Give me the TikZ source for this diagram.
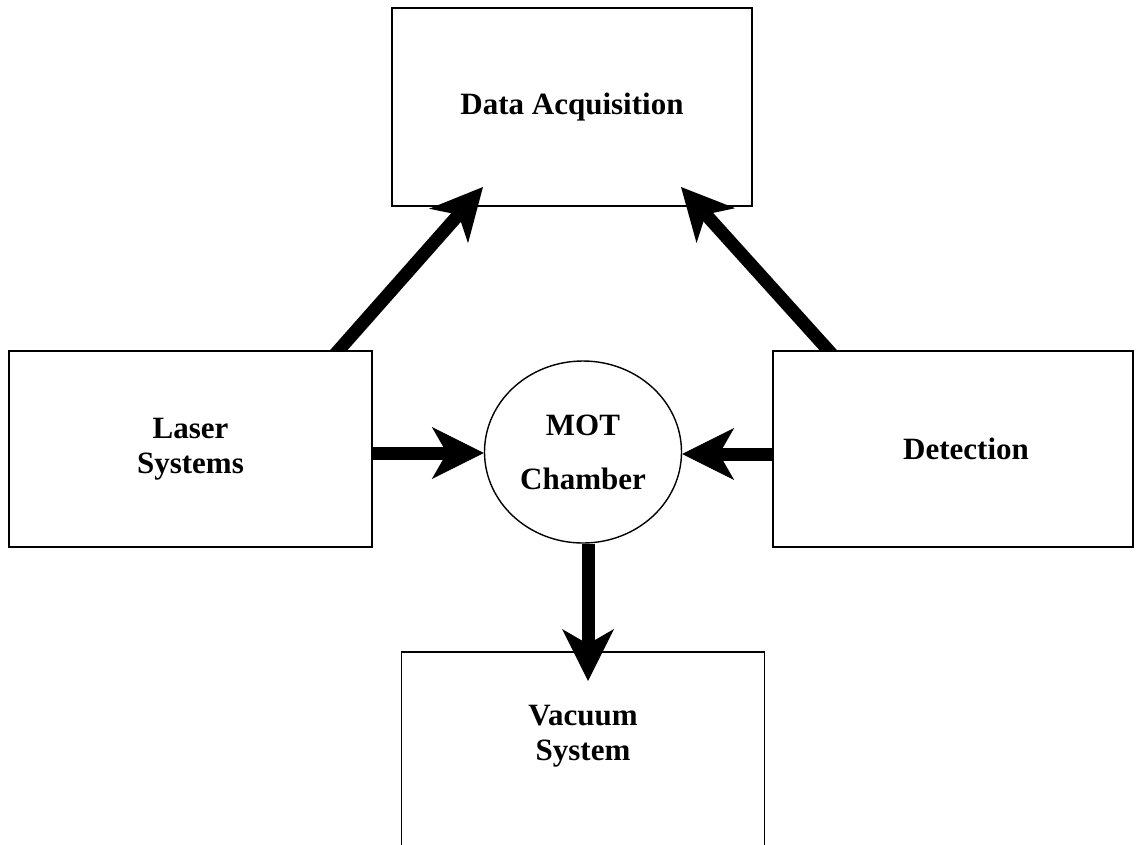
\documentclass[tikz,border=0pt]{standalone}
\usepackage{fontspec}
\setmainfont{Liberation Serif}
\usetikzlibrary{arrows.meta,positioning,shapes.geometric,backgrounds}

\begin{document}
\begin{tikzpicture}[x=1pt, y=-1pt,
    box/.style={draw, fill=white, rectangle, line width=1.4pt, inner sep=0pt, align=center,
      font=\bfseries\fontsize{31}{35}\selectfont},
    chamber/.style={draw, ellipse, line width=1.4pt, inner sep=0pt, align=center,
      minimum width=197pt, minimum height=182pt,
      font=\bfseries\fontsize{31}{35}\selectfont},
    flow/.style={line width=13pt,
      -{Stealth[length=52pt, width=52pt, inset=15pt, line width=0pt]}}]
  \useasboundingbox (0,0) rectangle (1139,844);

  % Boxes around the chamber
  \node[box, fill=none, minimum width=360pt, minimum height=198pt] (daq) at (572,107) {Data Acquisition};
  \node[box, minimum width=363pt, minimum height=196pt] (laser) at (190.5,449) {Laser\\Systems};
  \node[box, minimum width=360pt, minimum height=196pt] (det) at (953,449) {\hspace*{26pt}Detection};

  % Chamber in the middle
  \node[chamber] (mot) at (583,452) {\raisebox{-5pt}{MOT}\\[21pt]\raisebox{-3pt}{Chamber}};

  % Vacuum system, open at the bottom
  \node[box, draw=none, fill=none, minimum width=362pt, minimum height=167pt] (vac) at (583,736) {Vacuum\\System};
  \draw[line width=1.4pt] (vac.south west |- 0,860) -- (vac.north west)
    -- (vac.north east) -- (vac.south east |- 0,860);

  % Arrow ends (the feet sit under the boxes)
  \coordinate (laserFoot) at (328.7,361.5);
  \coordinate (daqTipL) at (483,187);
  \coordinate (detFoot) at (838.4,361.4);
  \coordinate (daqTipR) at (681,187);
  \coordinate (vacTip) at (588,681);

  % Arrows
  \begin{pgfonlayer}{background}
    \draw[flow] (laserFoot) -- (daqTipL);
    \draw[flow] (detFoot) -- (daqTipR);
  \end{pgfonlayer}
  \draw[flow] (laser.east |- 0,453) -- (mot.west |- 0,453);
  \draw[flow] (det.west |- 0,454) -- (mot.east |- 0,454);
  \draw[flow] (mot.south -| vacTip) -- (vacTip);
\end{tikzpicture}
\end{document}
